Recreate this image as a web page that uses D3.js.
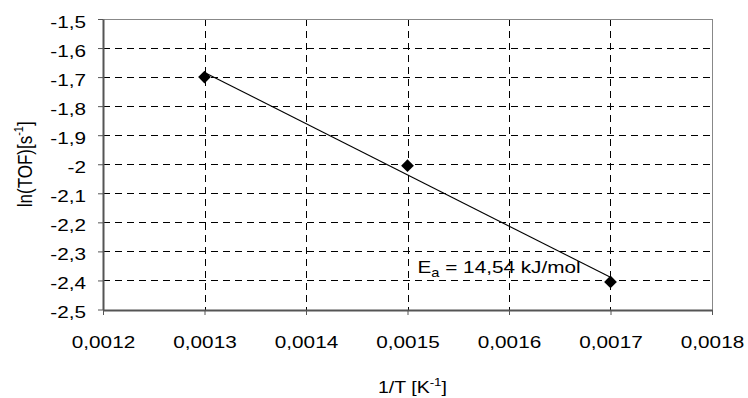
<!DOCTYPE html>
<html>
<head>
<meta charset="utf-8">
<script src="https://cdn.jsdelivr.net/npm/d3@7"></script>
<style>
  body { margin: 0; background: #fff; }
  svg { display: block; font-family: Arial, "Liberation Sans", sans-serif; }
</style>
</head>
<body>
<svg id="chart" width="748" height="398"></svg>
<script>
// data
const invT = [0.0013, 0.0015, 0.0017];
const lnTof = [-1.70, -2.005, -2.405];
const xTicks = [0.0012, 0.0013, 0.0014, 0.0015, 0.0016, 0.0017, 0.0018];
const yTicks = [-1.5, -1.6, -1.7, -1.8, -1.9, -2.0, -2.1, -2.2, -2.3, -2.4, -2.5];
const annotation = ' = 14,54 kJ/mol';

// region size
const plotLeft = 103, plotRight = 712, plotTop = 19, plotBottom = 309.5;
const stretch = 1.22; // the source picture is widened horizontally
// endregion

const svg = d3.select('#chart');

const x = d3.scaleLinear().domain([0.0012, 0.0018]).range([plotLeft, plotRight]);
const y = d3.scaleLinear().domain([-2.5, -1.5]).range([plotBottom, plotTop]);

const fmt = v => String(+v.toPrecision(6)).replace('.', ',');

// grid
const grid = svg.append('g').attr('shape-rendering', 'crispEdges');
grid.selectAll('.hg').data(yTicks.slice(1, -1)).enter().append('line')
  .attr('x1', plotLeft).attr('x2', plotRight)
  .attr('y1', d => Math.round(y(d)) + 0.5).attr('y2', d => Math.round(y(d)) + 0.5)
  .attr('stroke', '#000').attr('stroke-dasharray', '7,5');
grid.selectAll('.vg').data(xTicks.slice(1, -1)).enter().append('line')
  .attr('y1', plotTop).attr('y2', plotBottom)
  .attr('x1', d => Math.round(x(d)) + 0.5).attr('x2', d => Math.round(x(d)) + 0.5)
  .attr('stroke', '#000').attr('stroke-dasharray', '7,5');

// frame top/right
grid.append('path')
  .attr('d', `M${plotLeft},${plotTop + 0.5}H${plotRight + 0.5}V${plotBottom}`)
  .attr('fill', 'none').attr('stroke', '#888');

// axes
const xAxis = d3.axisBottom(x).tickValues(xTicks).tickSize(5).tickSizeOuter(0).tickFormat(fmt);
const yAxis = d3.axisLeft(y).tickValues(yTicks).tickSize(5).tickSizeOuter(0).tickFormat(fmt);

const gx = svg.append('g')
  .attr('transform', 'translate(0,' + Math.round(plotBottom) + ')')
  .call(xAxis);
const gy = svg.append('g')
  .attr('transform', 'translate(' + plotLeft + ',0)')
  .call(yAxis);

[gx, gy].forEach(g => {
  g.select('.domain').attr('stroke', '#555').attr('stroke-width', 2);
  g.selectAll('.tick line').attr('stroke', '#555');
  g.selectAll('.tick text').attr('fill', '#000').style('font-size', '17px')
    .style('font-family', 'Arial, "Liberation Sans", sans-serif')
    .attr('transform', `scale(${stretch},1)`);
});
gx.selectAll('.tick text').attr('y', 26).attr('dy', '0.71em');
gy.selectAll('.tick text').attr('x', -17 / stretch).attr('y', 3);

// trend line (least squares through the points)
const mx = d3.mean(invT), my = d3.mean(lnTof);
const slope = d3.sum(invT, (v, i) => (v - mx) * (lnTof[i] - my)) / d3.sum(invT, v => (v - mx) * (v - mx));
const icpt = my - slope * mx;
const ext = d3.extent(invT);
svg.append('line')
  .attr('x1', x(ext[0])).attr('y1', y(icpt + slope * ext[0]))
  .attr('x2', x(ext[1])).attr('y2', y(icpt + slope * ext[1]))
  .attr('stroke', '#000').attr('stroke-width', 1.1);

// markers
svg.selectAll('.pt').data(invT).enter().append('path')
  .attr('transform', (d, i) => `translate(${x(d)},${y(lnTof[i])}) rotate(45)`)
  .attr('d', d3.symbol(d3.symbolSquare, 81)())
  .attr('fill', '#000');

// annotation
const note = svg.append('text')
  .attr('transform', `translate(${x(0.0015) + 10},273) scale(${stretch},1)`)
  .style('font-size', '17px').attr('fill', '#000');
note.append('tspan').text('E');
note.append('tspan').attr('dy', 4).style('font-size', '12px').text('a');
note.append('tspan').attr('dy', -4).text(annotation);

// axis titles
const xt = svg.append('text')
  .attr('transform', `translate(${(plotLeft + plotRight) / 2 + 5},393) scale(${stretch},1)`)
  .attr('text-anchor', 'middle').style('font-size', '16px');
xt.append('tspan').text('1/T [K');
xt.append('tspan').attr('dy', -7).style('font-size', '11px').text('-1');
xt.append('tspan').attr('dy', 7).text(']');

const yt = svg.append('text')
  .attr('transform', `translate(32,${(plotTop + plotBottom) / 2}) rotate(-90) scale(1,${stretch})`)
  .attr('text-anchor', 'middle').style('font-size', '17px');
yt.append('tspan').text('ln(TOF)[s');
yt.append('tspan').attr('dy', -7).style('font-size', '11px').text('-1');
yt.append('tspan').attr('dy', 7).text(']');
</script>
</body>
</html>
